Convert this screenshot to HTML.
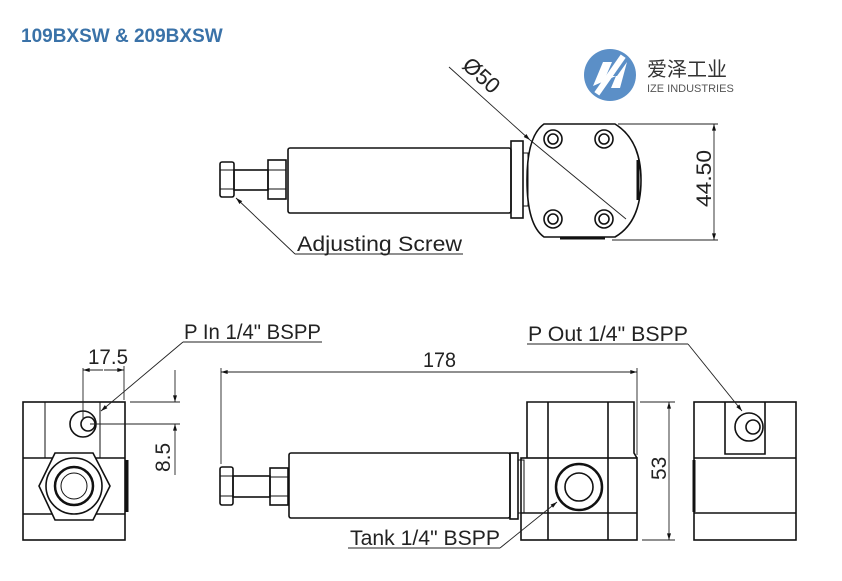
<!DOCTYPE html>
<html><head><meta charset="utf-8"><style>
body{margin:0;background:#fff;width:842px;height:581px;overflow:hidden}
svg{display:block}
text{font-family:"Liberation Sans","Noto Sans CJK SC",sans-serif}
</style></head><body>
<svg width="842" height="581" viewBox="0 0 842 581" xmlns="http://www.w3.org/2000/svg">
<defs>
<marker id="a" viewBox="0 0 10 6" refX="10" refY="3" markerWidth="10" markerHeight="4" orient="auto-start-reverse" markerUnits="userSpaceOnUse"><path d="M0,0 L10,3 L0,6z" fill="#111"/></marker>
</defs>
<text x="21" y="42" font-size="19" font-weight="bold" fill="#3a72a8">109BXSW &amp; 209BXSW</text>
<!-- logo -->
<circle cx="610" cy="75" r="26" fill="#5b8fc7"/>
<path d="M593,86 L603,62 L612,62 L606,76 L617,76 L627,62 L620,88 L611,88 L616,76 Z" fill="#fff"/>
<rect x="587" y="72" width="46" height="6" fill="#fff" transform="rotate(-55 610 75)"/>
<text x="647" y="76" font-size="20" fill="#333">爱泽工业</text>
<text x="647" y="92" font-size="11" fill="#555">IZE INDUSTRIES</text>

<g fill="none" stroke="#111" stroke-width="1.6">
<rect x="220" y="162" width="14" height="35" rx="2"/>
<line x1="220" y1="170" x2="234" y2="170" stroke-width="1"/><line x1="220" y1="189" x2="234" y2="189" stroke-width="1"/>
<rect x="234" y="170" width="34" height="20"/>
<rect x="268" y="160" width="18" height="39"/>
<line x1="268" y1="170" x2="286" y2="170" stroke-width="1"/><line x1="268" y1="189" x2="286" y2="189" stroke-width="1"/>
<rect x="288" y="148" width="223" height="65" rx="2"/>
<rect x="511" y="141" width="12" height="77"/>
<rect x="523" y="153" width="5" height="53" stroke-width="1"/>
<path d="M544,124 L615,124 Q641,140 641,180 Q641,222 615,237 L544,237 Q527,225 527,180 Q527,136 544,124 Z"/>
<line x1="638" y1="160" x2="638" y2="200" stroke-width="3"/>
<line x1="560" y1="238" x2="605" y2="238" stroke-width="3"/>
<circle cx="553" cy="139" r="9"/><circle cx="553" cy="139" r="5"/>
<circle cx="604" cy="139" r="9"/><circle cx="604" cy="139" r="5"/>
<circle cx="553" cy="219" r="9"/><circle cx="553" cy="219" r="5"/>
<circle cx="604" cy="219" r="9"/><circle cx="604" cy="219" r="5"/>
</g>
<g fill="none" stroke="#222" stroke-width="0.9">
<line x1="449" y1="67" x2="530" y2="140" marker-end="url(#a)"/>
<line x1="530" y1="140" x2="626" y2="219"/>
<line x1="618" y1="124" x2="718" y2="124"/><line x1="612" y1="240" x2="718" y2="240"/>
<line x1="714" y1="124" x2="714" y2="240" marker-start="url(#a)" marker-end="url(#a)"/>
<line x1="295" y1="254" x2="236" y2="198" marker-end="url(#a)"/>
<line x1="295" y1="254" x2="463" y2="254"/>
</g>
<text transform="translate(461,67) rotate(42)" font-size="22" fill="#222">Ø50</text>
<text transform="translate(711,207) rotate(-90)" font-size="21" fill="#222" textLength="57" lengthAdjust="spacingAndGlyphs">44.50</text>
<text x="297" y="251" font-size="21" fill="#222" textLength="165" lengthAdjust="spacingAndGlyphs">Adjusting Screw</text>

<!-- left view -->
<g fill="none" stroke="#111" stroke-width="1.6">
<rect x="23" y="402" width="102" height="138"/>
<line x1="45" y1="402" x2="45" y2="458" stroke-width="1"/><line x1="100" y1="402" x2="100" y2="458" stroke-width="1"/>
<line x1="23" y1="458" x2="125" y2="458"/><line x1="23" y1="514" x2="125" y2="514"/>
<line x1="127" y1="460" x2="127" y2="512" stroke-width="3"/>
<polygon points="55,453 93,453 110,486 93,520 55,520 39,486" fill="#fff"/>
<circle cx="74" cy="486" r="28"/><circle cx="74" cy="486" r="19" stroke-width="2.5"/><circle cx="74" cy="486" r="13" stroke-width="1"/>
<circle cx="83" cy="424" r="13"/><circle cx="88" cy="424" r="7"/>
</g>
<g fill="none" stroke="#222" stroke-width="0.9">
<line x1="83" y1="368" x2="83" y2="420"/><line x1="124" y1="366" x2="124" y2="400"/>
<line x1="83" y1="370" x2="103" y2="370" marker-start="url(#a)"/><line x1="104" y1="370" x2="124" y2="370" marker-end="url(#a)"/>
<line x1="130" y1="402" x2="180" y2="402"/><line x1="90" y1="424" x2="180" y2="424"/>
<line x1="175" y1="370" x2="175" y2="402" marker-end="url(#a)"/><line x1="175" y1="475" x2="175" y2="424" marker-end="url(#a)"/>
<line x1="183" y1="342" x2="101" y2="411" marker-end="url(#a)"/><line x1="183" y1="342" x2="322" y2="342"/>
<line x1="221" y1="368" x2="221" y2="464"/><line x1="637" y1="368" x2="637" y2="455"/>
<line x1="221" y1="372" x2="637" y2="372" marker-start="url(#a)" marker-end="url(#a)"/>
</g>
<text x="88" y="364" font-size="21" fill="#222" textLength="40" lengthAdjust="spacingAndGlyphs">17.5</text>
<text transform="translate(170,472) rotate(-90)" font-size="21" fill="#222">8.5</text>
<text x="184" y="339" font-size="21" fill="#222" textLength="137" lengthAdjust="spacingAndGlyphs">P In 1/4" BSPP</text>
<text x="423" y="367" font-size="21" fill="#222" textLength="33" lengthAdjust="spacingAndGlyphs">178</text>

<!-- side view -->
<g fill="none" stroke="#111" stroke-width="1.6">
<rect x="220" y="467" width="13" height="38" rx="2"/>
<line x1="220" y1="476" x2="233" y2="476" stroke-width="1"/><line x1="220" y1="496" x2="233" y2="496" stroke-width="1"/>
<rect x="233" y="476" width="37" height="21"/>
<rect x="270" y="468" width="18" height="37"/>
<line x1="270" y1="477" x2="288" y2="477" stroke-width="1"/><line x1="270" y1="496" x2="288" y2="496" stroke-width="1"/>
<rect x="289" y="453" width="221" height="65" rx="2"/>
<rect x="510" y="453" width="8" height="66"/>
<rect x="518" y="460" width="6" height="53" stroke-width="1"/>
<path d="M527,458 L527,402 L634,402 L634,453 L637,458"/>
<rect x="521" y="458" width="116" height="82"/>
<line x1="548" y1="402" x2="548" y2="540"/><line x1="608" y1="402" x2="608" y2="540"/>
<line x1="521" y1="513" x2="637" y2="513"/>
<circle cx="579" cy="487" r="23" stroke-width="2.5"/><circle cx="579" cy="487" r="14"/>
<!-- right view -->
<rect x="694" y="402" width="102" height="138"/>
<line x1="694" y1="458" x2="796" y2="458"/><line x1="694" y1="513" x2="796" y2="513"/>
<line x1="694" y1="460" x2="694" y2="512" stroke-width="3"/>
<path d="M725,402 L725,454 L765,454 L765,402"/>
<circle cx="749" cy="427" r="14"/><circle cx="753" cy="427" r="7"/>
</g>
<g fill="none" stroke="#222" stroke-width="0.9">
<line x1="640" y1="402" x2="675" y2="402"/><line x1="642" y1="540" x2="675" y2="540"/>
<line x1="669" y1="402" x2="669" y2="540" marker-start="url(#a)" marker-end="url(#a)"/>
<line x1="527" y1="344" x2="688" y2="344"/><line x1="688" y1="344" x2="742" y2="411" marker-end="url(#a)"/>
<line x1="348" y1="548" x2="500" y2="548"/><line x1="500" y1="548" x2="557" y2="502" marker-end="url(#a)"/>
</g>
<text transform="translate(666,480) rotate(-90)" font-size="21" fill="#222">53</text>
<text x="528" y="341" font-size="21" fill="#222" textLength="160" lengthAdjust="spacingAndGlyphs">P Out 1/4" BSPP</text>
<text x="350" y="545" font-size="21" fill="#222" textLength="150" lengthAdjust="spacingAndGlyphs">Tank 1/4" BSPP</text>
</svg>
</body></html>
